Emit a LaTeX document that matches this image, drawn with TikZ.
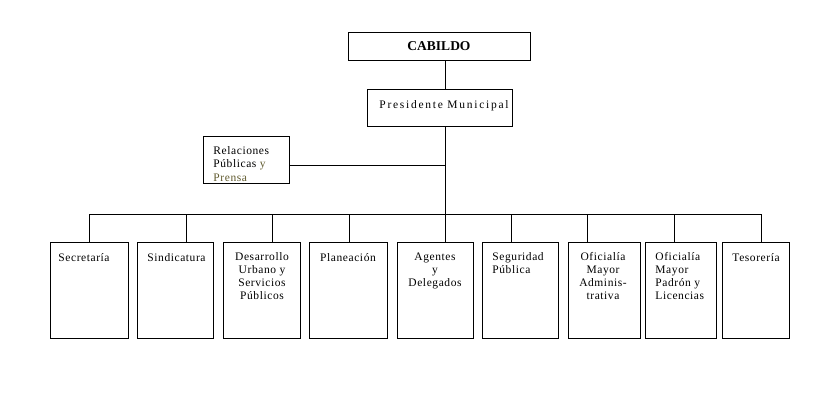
\documentclass[tikz,border=0pt]{standalone}
\usepackage{fontspec}
\setmainfont{Liberation Serif}
\definecolor{prensacol}{RGB}{96,90,46}

\begin{document}
\begin{tikzpicture}[x=1pt,y=-1pt,line width=0.9pt,
  box/.style={draw,rectangle,inner sep=0pt},
  unitbox/.style={box,minimum width=#1,minimum height=96pt},
  txt/.style={inner sep=0pt,
    font=\fontsize{11.5}{13}\selectfont\addfontfeature{LetterSpace=5},
    execute at begin node={\rule{0pt}{9pt}}},
  ctxt/.style={txt,anchor=north,align=center},
  ltxt/.style={txt,anchor=north west,align=left}]
\useasboundingbox (0,0) rectangle (839,399);

% top of the hierarchy
\node[box,minimum width=182pt,minimum height=28pt,
      font=\fontsize{13.5}{15}\selectfont\bfseries] (cab) at (439,46) {CABILDO};
\node[box,minimum width=145pt,minimum height=37pt] (pres) at (439.5,107.5) {};
\node[inner sep=0pt,anchor=base,
      font=\fontsize{11.5}{13}\selectfont\addfontfeature{LetterSpace=15}] (tpres) at (444,108) {Presidente Municipal};

% staff office
\node[box,minimum width=86pt,minimum height=47pt] (rel) at (246,159.5) {};
\node[ltxt,font=\fontsize{11.5}{13.5}\selectfont\addfontfeature{LetterSpace=5}] (trel) at (213,146)
  {Relaciones\\P\'ublicas \textcolor{prensacol}{y}\\\textcolor{prensacol}{Prensa}};

% trunk and bus
\coordinate (tk) at (445,214);
\coordinate (busL) at (89,214);
\coordinate (busR) at (761,214);
\draw (cab.south -| tk) -- (pres.north -| tk);
\draw (pres.south -| tk) -- (tk);
\draw ([yshift=-5.5pt]rel.east) -- ([yshift=-5.5pt]rel.east -| tk);
\draw (busL) -- (busR);

% departments
\node[unitbox=78pt] (b1) at (89,290) {};
\node[unitbox=76pt] (b2) at (175,290) {};
\node[unitbox=77pt] (b3) at (261.5,290) {};
\node[unitbox=78pt] (b4) at (348,290) {};
\node[unitbox=76pt] (b5) at (435,290) {};
\node[unitbox=76pt] (b6) at (520,290) {};
\node[unitbox=72pt] (b7) at (604,290) {};
\node[unitbox=71pt] (b8) at (680.5,290) {};
\node[unitbox=67pt] (b9) at (755.5,290) {};

% drops from the bus
\draw (b1.north) -- (b1.north |- busL);
\draw ([xshift=11pt]b2.north) -- ([xshift=11pt]b2.north |- busL);
\draw ([xshift=10.5pt]b3.north) -- ([xshift=10.5pt]b3.north |- busL);
\draw ([xshift=1pt]b4.north) -- ([xshift=1pt]b4.north |- busL);
\draw ([xshift=10pt]b5.north) -- ([xshift=10pt]b5.north |- busL);
\draw ([xshift=-9pt]b6.north) -- ([xshift=-9pt]b6.north |- busL);
\draw ([xshift=-17pt]b7.north) -- ([xshift=-17pt]b7.north |- busL);
\draw ([xshift=-6.5pt]b8.north) -- ([xshift=-6.5pt]b8.north |- busL);
\draw ([xshift=5.5pt]b9.north) -- ([xshift=5.5pt]b9.north |- busL);

% department names
\node[ltxt] (t1) at (58,252) {Secretar\'ia};
\node[ltxt] (t2) at (147,252) {Sindicatura};
\node[ctxt] (t3) at (262,252) {Desarrollo\\Urbano y\\Servicios\\P\'ublicos};
\node[ctxt] (t4) at (348,252) {Planeaci\'on};
\node[ctxt] (t5) at (435,252) {Agentes\\y\\Delegados};
\node[ltxt] (t6) at (492,252) {Seguridad\\P\'ublica};
\node[ctxt] (t7) at (603,252) {Oficial\'ia\\Mayor\\Adminis-\\trativa};
\node[ltxt] (t8) at (655,252) {Oficial\'ia\\Mayor\\Padr\'on y\\Licencias};
\node[ltxt] (t9) at (732,252) {Tesorer\'ia};
\end{tikzpicture}
\end{document}
